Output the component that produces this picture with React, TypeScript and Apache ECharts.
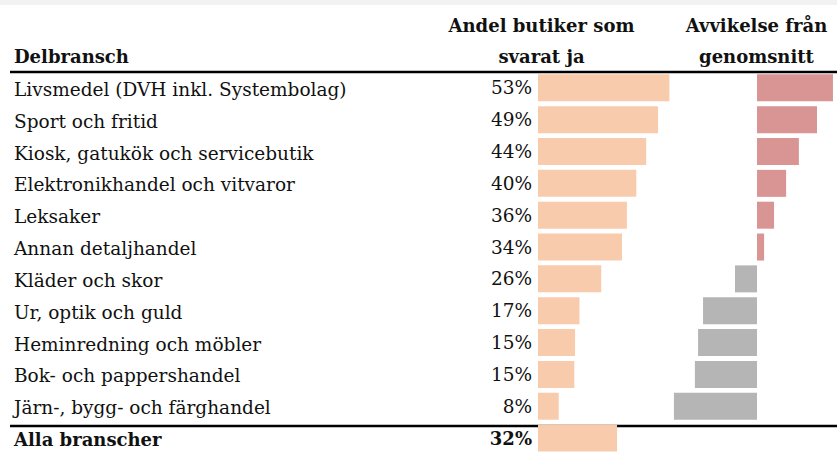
import React, { useEffect, useRef } from "react";
import * as echarts from "echarts";

const categories: string[] = [
  "Livsmedel (DVH inkl. Systembolag)",
  "Sport och fritid",
  "Kiosk, gatukök och servicebutik",
  "Elektronikhandel och vitvaror",
  "Leksaker",
  "Annan detaljhandel",
  "Kläder och skor",
  "Ur, optik och guld",
  "Heminredning och möbler",
  "Bok- och pappershandel",
  "Järn-, bygg- och färghandel",
];
const totalLabel = "Alla branscher";

// Andel butiker som svarat ja (%)
const shareValues: number[] = [53.2, 48.6, 43.8, 39.8, 36.0, 34.0, 25.6, 16.8, 15.0, 14.7, 8.4];
const totalShare = 32.0;

// Avvikelse från genomsnitt (procentenheter)
const deviationValues: number[] = [21.4, 16.9, 11.8, 8.2, 4.8, 2.0, -6.2, -15.2, -16.6, -17.5, -23.4];

const headerShare = ["Andel butiker som", "svarat ja"];
const headerDev = ["Avvikelse från", "genomsnitt"];
const headerCat = "Delbransch";

const FONT = "DejaVu Serif";
const FS = 18.5;
const FSB = 18;
const TXT = "#111111";
const PEACH = "#F8CBAD";
const PINK = "#D99594";
const GREY = "#B5B5B5";

export default function App() {
  const ref = useRef<HTMLDivElement>(null);
  useEffect(() => {
    if (!ref.current) return;
    const chart = echarts.init(ref.current, undefined, { renderer: "svg" });
    const yData = [...categories, totalLabel];
    const rowTop = 71.9;
    const rowH = 32.2;
    const gridH = rowH * yData.length;
    const ppu1 = 2.47;
    const ppu2 = 3.55;
    const zero2 = 757;
    const min2 = -25;
    const max2 = 22;

    const option: any = {
      animation: false,
      backgroundColor: "#ffffff",
      textStyle: { fontFamily: FONT },
      grid: [
        { left: 538, top: rowTop, width: 60 * ppu1, height: gridH, containLabel: false },
        { left: zero2 + min2 * ppu2, top: rowTop, width: (max2 - min2) * ppu2, height: gridH, containLabel: false },
      ],
      xAxis: [
        { type: "value", gridIndex: 0, min: 0, max: 60, show: false, splitLine: { show: false } },
        { type: "value", gridIndex: 1, min: min2, max: max2, show: false, splitLine: { show: false } },
      ],
      yAxis: [
        {
          type: "category",
          gridIndex: 0,
          data: yData,
          inverse: true,
          axisLine: { show: false },
          axisTick: { show: false },
          splitLine: { show: false },
          axisLabel: {
            align: "left",
            margin: 524,
            fontSize: FS,
            fontFamily: FONT,
            color: TXT,
            padding: [3, 0, 0, 0],
            formatter: (v: string) => (v === totalLabel ? `{b|${v}}` : v),
            rich: { b: { fontWeight: "bold", fontSize: FSB, fontFamily: FONT, color: TXT } },
          },
        },
        {
          type: "category",
          gridIndex: 1,
          data: yData,
          inverse: true,
          show: false,
        },
      ],
      series: [
        {
          type: "bar",
          xAxisIndex: 0,
          yAxisIndex: 0,
          barWidth: 27,
          itemStyle: { color: PEACH },
          label: {
            show: true,
            position: "left",
            distance: 6,
            fontSize: FS,
            fontFamily: FONT,
            color: TXT,
            padding: [3, 0, 0, 0],
            formatter: (p: any) => Math.round(p.value) + "%",
          },
          data: [
            ...shareValues.map((v) => ({ value: v })),
            { value: totalShare, label: { fontWeight: "bold", fontSize: FSB } },
          ],
        },
        {
          type: "bar",
          xAxisIndex: 1,
          yAxisIndex: 1,
          barWidth: 27,
          data: [
            ...deviationValues.map((v) => ({ value: v, itemStyle: { color: v >= 0 ? PINK : GREY } })),
            "-",
          ],
        },
      ],
      graphic: [
        { type: "rect", shape: { x: 0, y: 0, width: 837, height: 5 }, style: { fill: "#F2F2F2" }, silent: true },
        { type: "line", shape: { x1: 10, y1: 72, x2: 837, y2: 72 }, style: { stroke: "#000", lineWidth: 2.5 } },
        { type: "line", shape: { x1: 10, y1: 426, x2: 837, y2: 426 }, style: { stroke: "#000", lineWidth: 2.5 } },
        {
          type: "text", x: 14, y: 56,
          style: { text: headerCat, fontSize: FSB, fontWeight: "bold", fontFamily: FONT, fill: TXT, align: "left", verticalAlign: "middle" },
        },
        {
          type: "text", x: 541.5, y: 25,
          style: { text: headerShare[0], fontSize: FSB, fontWeight: "bold", fontFamily: FONT, fill: TXT, align: "center", verticalAlign: "middle" },
        },
        {
          type: "text", x: 541.5, y: 56,
          style: { text: headerShare[1], fontSize: FSB, fontWeight: "bold", fontFamily: FONT, fill: TXT, align: "center", verticalAlign: "middle" },
        },
        {
          type: "text", x: 756.5, y: 25,
          style: { text: headerDev[0], fontSize: FSB, fontWeight: "bold", fontFamily: FONT, fill: TXT, align: "center", verticalAlign: "middle" },
        },
        {
          type: "text", x: 756.5, y: 56,
          style: { text: headerDev[1], fontSize: FSB, fontWeight: "bold", fontFamily: FONT, fill: TXT, align: "center", verticalAlign: "middle" },
        },
      ],
    };
    chart.setOption(option);
    return () => chart.dispose();
  }, []);
  return (
    <div
      ref={ref}
      style={{ position: "fixed", left: 0, top: 0, width: 837, height: 454, background: "#fff" }}
    />
  );
}
